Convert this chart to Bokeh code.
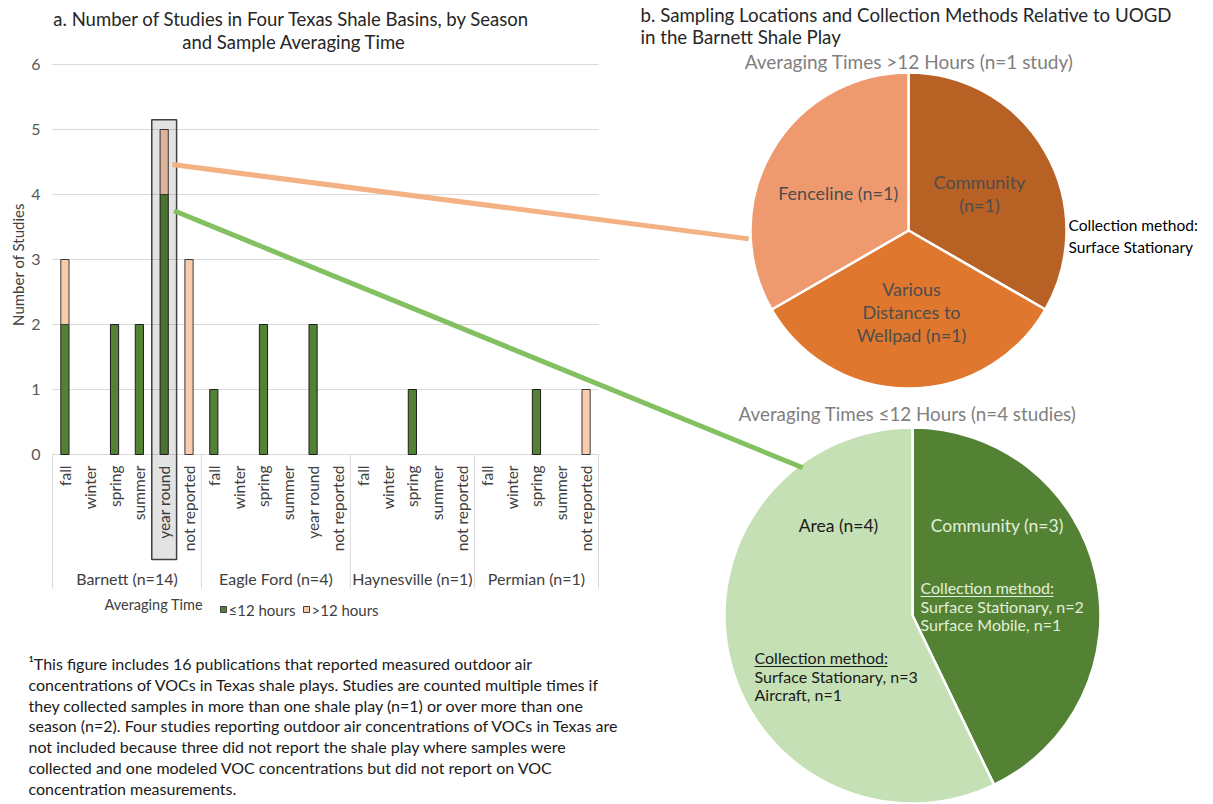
import numpy as np
from bokeh.plotting import figure
from bokeh.models import Range1d
from bokeh.core.properties import value
from bokeh.embed import file_html
from bokeh.resources import INLINE

# ---------------- panel a: studies by basin, season and averaging time ----------------
basins = ["Barnett (n=14)", "Eagle Ford (n=4)", "Haynesville (n=1)", "Permian (n=1)"]
basin_seasons = [
    ["fall", "winter", "spring", "summer", "year round", "not reported"],
    ["fall", "winter", "spring", "summer", "year round", "not reported"],
    ["fall", "winter", "spring", "summer", "not reported"],
    ["fall", "winter", "spring", "summer", "not reported"],
]
le12_hours = [2, 0, 2, 2, 4, 0,
              1, 0, 2, 0, 2, 0,
              0, 0, 1, 0, 0,
              0, 0, 1, 0, 0]
gt12_hours = [1, 0, 0, 0, 1, 3,
              0, 0, 0, 0, 0, 0,
              0, 0, 0, 0, 0,
              0, 0, 0, 0, 1]
y_ticks = [0, 1, 2, 3, 4, 5, 6]
legend_labels = ["\u226412 hours", ">12 hours"]

# ---------------- panel b: Barnett sampling locations ----------------
pie_gt12_labels = ["Community", "Various Distances to Wellpad", "Fenceline"]
pie_gt12_counts = [1, 1, 1]
pie_le12_labels = ["Community", "Area"]
pie_le12_counts = [3, 4]

# ---------------- layout ----------------
W, H = 1213, 804
PLOT_L, PLOT_R = 52, 598
Y0_PX, PX_PER_STUDY = 454, 65
FONT = value("Lato")

flat_seasons = [s for grp in basin_seasons for s in grp]
n_slots = len(flat_seasons)
slot_w = (PLOT_R - PLOT_L) / n_slots
centers = np.arange(n_slots) + 0.5
bounds = np.concatenate([[0], np.cumsum([len(g) for g in basin_seasons])])


def px_x(slot):
    return PLOT_L + slot * slot_w


def px_y(cnt):
    return Y0_PX - cnt * PX_PER_STUDY


p = figure(width=W, height=H, x_range=Range1d(0, W), y_range=Range1d(H, 0),
           output_backend="svg", toolbar_location=None, tools="",
           x_axis_location=None, y_axis_location=None, min_border=0)
p.grid.visible = False
p.outline_line_color = None
p.background_fill_color = "white"
p.border_fill_color = "white"
p.extra_x_ranges = {"slot": Range1d(-PLOT_L / slot_w, (W - PLOT_L) / slot_w)}
p.extra_y_ranges = {"cnt": Range1d((Y0_PX - H) / PX_PER_STUDY, Y0_PX / PX_PER_STUDY)}

# horizontal gridlines and baseline
p.segment(x0=[0] * len(y_ticks), x1=[n_slots] * len(y_ticks), y0=y_ticks, y1=y_ticks,
          x_range_name="slot", y_range_name="cnt", line_color="#D9D9D9", line_width=1)

# stacked bars
le = np.array(le12_hours, dtype=float)
gt = np.array(gt12_hours, dtype=float)
m1 = le > 0
p.vbar(x=centers[m1], width=0.33, bottom=0, top=le[m1], x_range_name="slot", y_range_name="cnt",
       fill_color="#548235", line_color="#1E1E1E", line_width=1)
m2 = gt > 0
p.vbar(x=centers[m2], width=0.33, bottom=le[m2], top=(le + gt)[m2], x_range_name="slot",
       y_range_name="cnt", fill_color="#F8CBAD", line_color="#3A3A3A", line_width=1)

# y tick labels and title
p.text(x=[40] * len(y_ticks), y=y_ticks, text=[str(t) for t in y_ticks], y_range_name="cnt",
       text_align="right", text_baseline="middle", text_font=FONT,
       text_font_size=value("16px"), text_color="#595959")
p.text(x=[17], y=[262], text=["Number  of Studies"], angle=np.pi / 2, text_align="center",
       text_baseline="middle", text_font=FONT, text_font_size=value("15px"), text_color="#404040")

# season labels (rotated) and basin groups
p.text(x=centers, y=[465] * n_slots, text=flat_seasons, x_range_name="slot", angle=np.pi / 2,
       text_align="right", text_baseline="middle", text_font=FONT,
       text_font_size=value("15.5px"), text_color="#404040")
p.segment(x0=bounds, x1=bounds, y0=[Y0_PX] * len(bounds), y1=[588] * len(bounds),
          x_range_name="slot", line_color="#D9D9D9", line_width=1)
p.text(x=(bounds[:-1] + bounds[1:]) / 2, y=[578] * len(basins), text=basins, x_range_name="slot",
       text_align="center", text_baseline="middle", text_font=FONT,
       text_font_size=value("16px"), text_color="#404040")

# highlight around Barnett year-round column
hl = flat_seasons.index("year round")
p.quad(left=[hl], right=[hl + 1], top=[5.15], bottom=[(Y0_PX - 559) / PX_PER_STUDY],
       x_range_name="slot", y_range_name="cnt", fill_color="black", fill_alpha=0.11,
       line_color="#404040", line_width=1.5)

# legend
p.text(x=[104], y=[604], text=["Averaging Time"], text_baseline="middle", text_font=FONT,
       text_font_size=value("14.5px"), text_color="#404040")
p.quad(left=[220, 303], right=[226, 309], top=[606, 606], bottom=[612, 612],
       fill_color=["#548235", "#F8CBAD"], line_color="#404040", line_width=1)
p.text(x=[228, 311], y=[609, 609], text=legend_labels, text_baseline="middle", text_font=FONT,
       text_font_size=value("15px"), text_color="#404040")

# panel a title
p.text(x=[296, 296], y=[18, 41],
       text=["a.  Number  of Studies in Four Texas Shale Basins, by Season",
             "and Sample  Averaging Time"],
       text_align="center", text_baseline="middle", text_font=FONT,
       text_font_size=value("18.5px"), text_color="#262626")

# footnote
footnote = [
    "\u00b9This figure includes 16 publications that reported measured outdoor air",
    "concentrations of VOCs in Texas shale plays. Studies are counted multiple times if",
    "they collected samples in more than one shale play (n=1) or over more than one",
    "season (n=2). Four studies reporting outdoor air concentrations of VOCs in Texas are",
    "not included because three did not report the shale play where samples were",
    "collected and one modeled VOC concentrations but did not report on VOC",
    "concentration measurements.",
]
p.text(x=[28] * len(footnote), y=[663 + 20.8 * i for i in range(len(footnote))], text=footnote,
       text_baseline="middle", text_font=FONT, text_font_size=value("16px"),
       text_color="#1A1A1A")

# ---------------- panel b ----------------
p.text(x=[640, 640], y=[14, 36],
       text=["b. Sampling  Locations and Collection Methods Relative to UOGD",
             "in the Barnett Shale Play"],
       text_baseline="middle", text_font=FONT, text_font_size=value("18.7px"),
       text_color="#262626")


def wedges(counts):
    frac = np.array(counts, dtype=float) / sum(counts)
    top = np.pi / 2 - 2 * np.pi * np.concatenate([[0], np.cumsum(frac)[:-1]])
    return top - 2 * np.pi * frac, top


# pie: averaging times > 12 hours
c1x, c1y, r1 = 908, 230, 158
s1, e1 = wedges(pie_gt12_counts)
p.wedge(x=c1x, y=c1y, radius=r1, start_angle=s1, end_angle=e1,
        fill_color=["#B86125", "#DF772E", "#EF9A6E"], line_color="white", line_width=2.5)
p.text(x=[911], y=[61], text=["Averaging Times >12 Hours  (n=1 study)"], text_align="center",
       text_baseline="middle", text_font=FONT, text_font_size=value("19px"), text_color="#7F7F7F")
p.text(x=[979, 979, 911, 911, 911, 840], y=[181, 204, 288, 311, 334, 192],
       text=["Community", "(n=1)", "Various", "Distances to", "Wellpad (n=1)", "Fenceline  (n=1)"],
       text_align="center", text_baseline="middle", text_font=FONT,
       text_font_size=value("18px"), text_color="#4D4D4D")
p.text(x=[1068, 1068], y=[224, 246], text=["Collection method:", "Surface Stationary"],
       text_baseline="middle", text_font=FONT, text_font_size=value("15.5px"), text_color="black")

# pie: averaging times <= 12 hours
c2x, c2y, r2 = 912, 615, 188
s2, e2 = wedges(pie_le12_counts)
p.wedge(x=c2x, y=c2y, radius=r2, start_angle=s2, end_angle=e2,
        fill_color=["#548235", "#C5E0B4"], line_color="white", line_width=2.5)
p.text(x=[907], y=[413], text=["Averaging Times \u226412 Hours (n=4 studies)"], text_align="center",
       text_baseline="middle", text_font=FONT, text_font_size=value("18.8px"), text_color="#7F7F7F")
p.text(x=[838], y=[525], text=["Area (n=4)"], text_align="center", text_baseline="middle",
       text_font=FONT, text_font_size=value("17.5px"), text_color="#1A1A1A")
p.text(x=[999], y=[525], text=["Community  (n=3)"], text_align="center", text_baseline="middle",
       text_font=FONT, text_font_size=value("17.5px"), text_color="#E2EFDA")
p.text(x=[920, 920, 920], y=[587, 606, 624],
       text=["Collection  method:", "Surface Stationary, n=2", "Surface Mobile, n=1"],
       text_baseline="middle", text_font=FONT, text_font_size=value("16px"), text_color="#E2EFDA")
p.segment(x0=[920], x1=[1053], y0=[596], y1=[596], line_color="#E2EFDA", line_width=1)
p.text(x=[754, 754, 754], y=[657, 676, 694],
       text=["Collection  method:", "Surface Stationary, n=3", "Aircraft, n=1"],
       text_baseline="middle", text_font=FONT, text_font_size=value("16px"), text_color="#1A1A1A")
p.segment(x0=[754], x1=[887], y0=[666], y1=[666], line_color="#1A1A1A", line_width=1)

# connectors from the Barnett year-round column to the pies
ang1, ang2 = np.deg2rad(183), np.deg2rad(126.6)
p.segment(x0=[px_x(hl + 0.83)], y0=[px_y(4.46)],
          x1=[c1x + 160 * np.cos(ang1)], y1=[c1y - 160 * np.sin(ang1)],
          line_color="#F4B183", line_width=5)
p.segment(x0=[px_x(hl + 0.9)], y0=[px_y(3.75)],
          x1=[c2x + 184 * np.cos(ang2)], y1=[c2y - 184 * np.sin(ang2)],
          line_color="#82C062", line_width=5)

open("out.html", "w").write(file_html(p, INLINE))
